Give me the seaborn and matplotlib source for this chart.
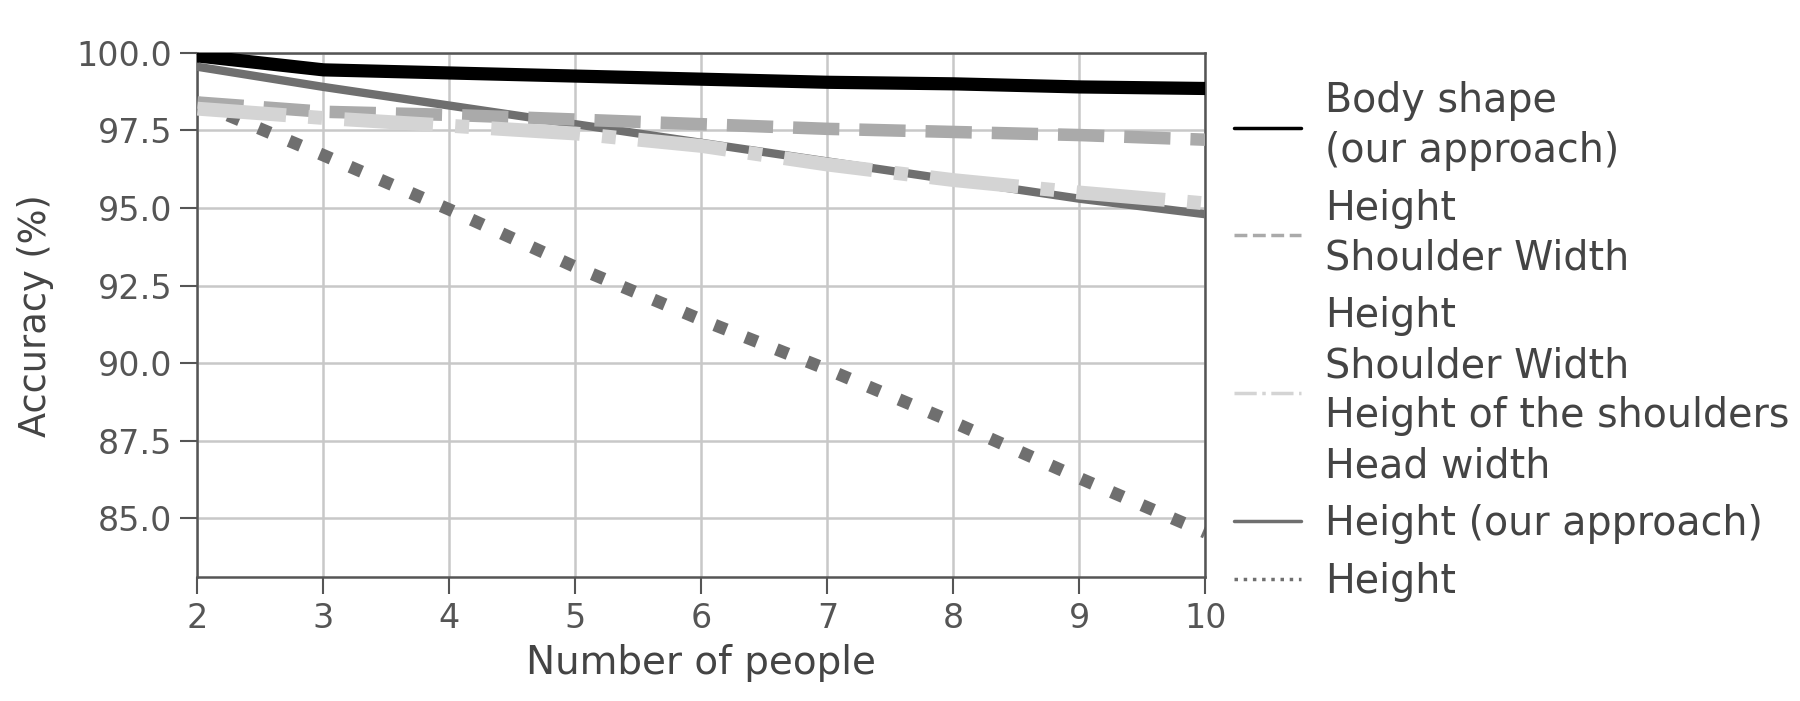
import matplotlib
matplotlib.use("Agg")
import matplotlib.pyplot as plt
import seaborn as sns
import pandas as pd
import numpy as np

people = [2, 3, 4, 5, 6, 7, 8, 9, 10]
body_shape = [99.9, 99.45, 99.35, 99.25, 99.15, 99.05, 99.0, 98.9, 98.85]
height_shoulder = [98.4, 98.1, 98.0, 97.85, 97.7, 97.55, 97.45, 97.35, 97.2]
four_features = [98.2, 97.9, 97.65, 97.4, 97.0, 96.4, 95.9, 95.5, 95.15]
height_ours = [99.55, 98.9, 98.3, 97.7, 97.1, 96.5, 95.9, 95.3, 94.8]
height_only = [98.4, 96.7, 94.95, 93.1, 91.4, 89.8, 88.1, 86.3, 84.55]

labels = [
    "Body shape\n(our approach)",
    "Height\nShoulder Width",
    "Height\nShoulder Width\nHeight of the shoulders\nHead width",
    "Height (our approach)",
    "Height",
]
series = [body_shape, height_shoulder, four_features, height_ours, height_only]
colors = ["#000000", "#aaaaaa", "#d4d4d4", "#6f6f6f", "#6f6f6f"]
styles = ["-", "--", "-.", "-", ":"]
widths = [9.5, 9, 10, 6, 9]
zorders = [6, 4, 5, 3, 2]

sns.set_style("whitegrid")
plt.rcParams['font.family'] = ['DejaVu Sans']

fig = plt.figure(figsize=(18, 7.01), dpi=100)
ax = fig.add_axes([0.1097, 0.1762, 0.56, 0.7485])

for lab, vals, c, ls, lw, z in zip(labels, series, colors, styles, widths, zorders):
    df = pd.DataFrame({"people": people, "acc": vals})
    sns.lineplot(data=df, x="people", y="acc", ax=ax, color=c, linestyle=ls,
                 linewidth=lw, label=lab, zorder=z)
    line = ax.lines[-1]
    line.set_dash_capstyle("butt")

ax.set_xlim(2, 10)
ax.set_ylim(83.1, 100)
ax.set_xticks(people)
yt = [85.0, 87.5, 90.0, 92.5, 95.0, 97.5, 100.0]
ax.set_yticks(yt)
ax.set_yticklabels([f"{v:.1f}" for v in yt])
ax.grid(True, color="#c8c8c8", linewidth=1.8)
for s in ax.spines.values():
    s.set_color("#555555")
    s.set_linewidth(1.8)
ax.tick_params(axis="both", which="major", labelsize=24, colors="#555555",
               length=12, width=1.5, direction="out", left=True, bottom=True,
               pad=6)
ax.set_xlabel("Number of people", fontsize=28, color="#444444", labelpad=6)
ax.set_ylabel("Accuracy (%)", fontsize=26.5, color="#444444", labelpad=16)

handles, hl = ax.get_legend_handles_labels()
leg = ax.legend(handles, hl, loc="center left", bbox_to_anchor=(1.0285, 0.45),
                frameon=False, fontsize=28.5, handlelength=1.7, labelspacing=0.45,
                handletextpad=0.6, borderaxespad=0, borderpad=0)
for h in leg.legend_handles:
    h.set_linewidth(2.5)
for t in leg.get_texts():
    t.set_color("#444444")
    t.set_linespacing(1.32)

fig.savefig("out.png", dpi=100)
